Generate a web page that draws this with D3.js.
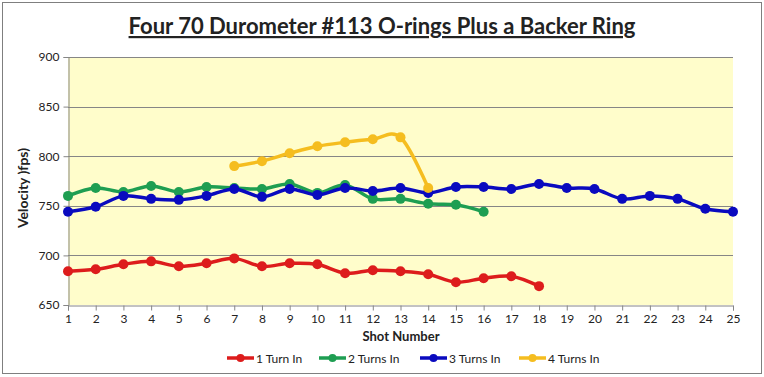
<html>
<head>
<script src="https://cdn.jsdelivr.net/npm/d3@7"></script>
<style>
    body, html { margin: 0; padding: 0; background: white; }
    text { font-family: Lato, "Open Sans", sans-serif; fill: #222; }
</style>
</head>
<body>
<div id="container"></div>
<script>
    const shots = d3.range(1, 26);
    const yTicks = [650, 700, 750, 800, 850, 900];

    const oneTurn = [684, 686, 691, 694, 689, 692, 697, 689, 692, 691, 682, 685, 684, 681, 673, 677, 679, 669];
    const twoTurns = [760, 768, 764, 770, 764, 769, 768, 767, 772, 763, 771, 757, 757, 752, 751, 744];
    const threeTurns = [744, 749, 760, 757, 756, 760, 767, 759, 767, 761, 768, 765, 768, 763, 769, 769, 767, 772, 768, 767, 757, 760, 757, 747, 744];
    const fourTurns = [790, 795, 803, 810, 814, 817, 819, 768];
    const fourTurnsStart = 7;

    const seriesNames = ["1 Turn In", "2 Turns In", "3 Turns In", "4 Turns In"];
    const seriesColors = ["#DD1C1C", "#1E9E52", "#0A0ABF", "#F5BD1F"];

    const series = [
        oneTurn.map((v, i) => ({ x: i + 1, y: v })),
        twoTurns.map((v, i) => ({ x: i + 1, y: v })),
        threeTurns.map((v, i) => ({ x: i + 1, y: v })),
        fourTurns.map((v, i) => ({ x: i + fourTurnsStart, y: v }))
    ];

    const width = 764, height = 377;
    const plot = { left: 68, right: 733, top: 57, bottom: 305 };

    const svg = d3.select("#container").append("svg")
        .attr("width", width)
        .attr("height", height);

    // outer chart border
    svg.append("rect")
        .attr("x", 2.5).attr("y", 2.5)
        .attr("width", 759).attr("height", 371)
        .attr("fill", "white")
        .attr("stroke", "#7f7f7f");

    const x = d3.scaleLinear().domain([1, 25]).range([plot.left, plot.right]);
    const y = d3.scaleLinear().domain([650, 900]).range([plot.bottom, plot.top]);

    svg.append("rect")
        .attr("x", plot.left).attr("y", plot.top)
        .attr("width", plot.right - plot.left).attr("height", plot.bottom - plot.top)
        .attr("fill", "#FFFDCB");

    // gridlines
    svg.append("g")
        .selectAll("line")
        .data(yTicks.filter(d => d > 650))
        .join("line")
        .attr("x1", plot.left).attr("x2", plot.right)
        .attr("y1", d => Math.round(y(d)) + 0.5).attr("y2", d => Math.round(y(d)) + 0.5)
        .attr("stroke", "#868686");

    // y axis
    const yAxis = svg.append("g")
        .attr("transform", `translate(${plot.left + 0.5},0)`)
        .call(d3.axisLeft(y).tickValues(yTicks).tickSize(5).tickPadding(4));
    yAxis.select(".domain").attr("stroke", "#868686");
    yAxis.selectAll(".tick line").attr("stroke", "#868686");
    yAxis.selectAll("text").attr("font-size", 12).attr("fill", "#222")
        .attr("font-family", "Lato, sans-serif");

    // x axis
    const xAxis = svg.append("g")
        .attr("transform", `translate(0,${plot.bottom + 0.5})`)
        .call(d3.axisBottom(x).tickValues(shots).tickSize(5).tickPadding(4).tickFormat(d3.format("d")));
    xAxis.select(".domain").attr("stroke", "#868686");
    xAxis.selectAll(".tick line").attr("stroke", "#868686");
    xAxis.selectAll("text").attr("font-size", 12).attr("fill", "#222")
        .attr("font-family", "Lato, sans-serif");

    // lines
    const line = d3.line()
        .x(d => x(d.x))
        .y(d => y(d.y))
        .curve(d3.curveCatmullRom.alpha(0));

    series.forEach((s, i) => {
        const g = svg.append("g");
        g.append("path")
            .datum(s)
            .attr("d", line)
            .attr("fill", "none")
            .attr("stroke", seriesColors[i])
            .attr("stroke-width", 3.5)
            .attr("stroke-linejoin", "round");
        g.selectAll("circle")
            .data(s)
            .join("circle")
            .attr("cx", d => x(d.x))
            .attr("cy", d => y(d.y))
            .attr("r", 5)
            .attr("fill", seriesColors[i]);
    });

    // title
    svg.append("text")
        .attr("x", 382).attr("y", 34)
        .attr("text-anchor", "middle")
        .attr("font-size", 22)
        .attr("font-weight", "bold")
        .attr("text-decoration", "underline")
        .text("Four 70 Durometer #113 O-rings Plus a Backer Ring");

    svg.append("text")
        .attr("transform", "translate(28,188) rotate(-90)")
        .attr("text-anchor", "middle")
        .attr("font-size", 14)
        .attr("font-weight", "bold")
        .text("Velocity )fps)");

    svg.append("text")
        .attr("x", 401).attr("y", 341)
        .attr("text-anchor", "middle")
        .attr("font-size", 13)
        .attr("font-weight", "bold")
        .text("Shot Number");

    // legend
    const legendX = [227, 319, 420, 519];
    const legend = svg.append("g")
        .selectAll("g")
        .data(seriesNames)
        .join("g")
        .attr("transform", (d, i) => `translate(${legendX[i]},358)`);
    legend.append("line")
        .attr("x1", 0).attr("x2", 27)
        .attr("stroke", (d, i) => seriesColors[i])
        .attr("stroke-width", 3.5);
    legend.append("circle")
        .attr("cx", 13.5).attr("r", 4)
        .attr("fill", (d, i) => seriesColors[i]);
    legend.append("text")
        .attr("x", 29).attr("y", 4.5)
        .attr("font-size", 12)
        .text(d => d);
</script>
</body>
</html>
